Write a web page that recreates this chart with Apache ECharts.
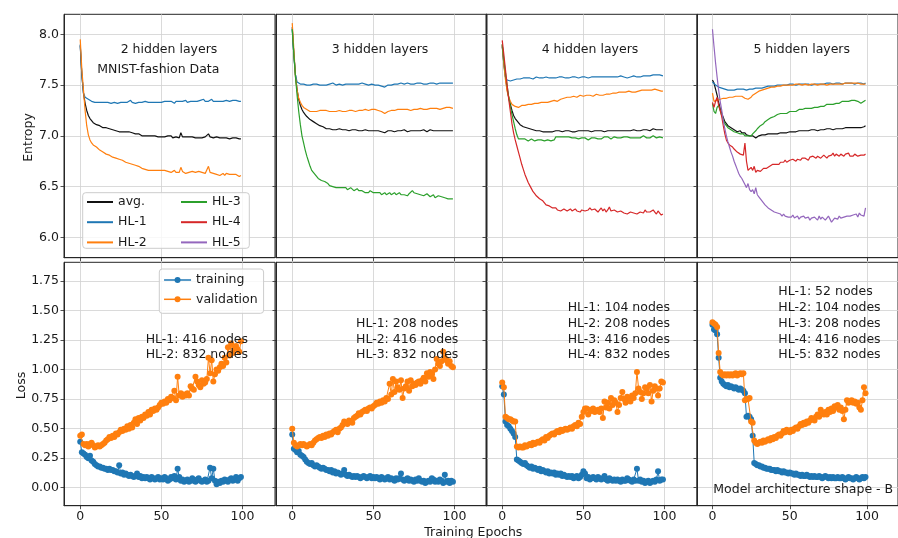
<!DOCTYPE html>
<html><head><meta charset="utf-8">
<script src="https://cdn.jsdelivr.net/npm/echarts@6/dist/echarts.min.js"></script>
<style>html,body{margin:0;padding:0;background:#fff}#c{width:898px;height:538px}</style>
</head><body><div id="c"></div><script>
// ---------- tick labels / categories ----------
const X_TICKS = [0, 50, 100];
const ENT_TICKS = [6.0, 6.5, 7.0, 7.5, 8.0];
const LOSS_TICKS = [0, 0.25, 0.5, 0.75, 1.0, 1.25, 1.5, 1.75];
const ENT_NAMES = ['avg.', 'HL-1', 'HL-2', 'HL-3', 'HL-4', 'HL-5'];
const LOSS_NAMES = ['training', 'validation'];
const PANEL_TITLES = ['2 hidden layers', '3 hidden layers', '4 hidden layers', '5 hidden layers'];
const NODE_NOTES = [
  ['HL-1: 416 nodes', 'HL-2: 832 nodes'],
  ['HL-1: 208 nodes', 'HL-2: 416 nodes', 'HL-3: 832 nodes'],
  ['HL-1: 104 nodes', 'HL-2: 208 nodes', 'HL-3: 416 nodes', 'HL-4: 832 nodes'],
  ['HL-1: 52 nodes', 'HL-2: 104 nodes', 'HL-3: 208 nodes', 'HL-4: 416 nodes', 'HL-5: 832 nodes']
];

// ---------- entropy: 2 hidden layers ----------
const h2_avg = [
7.89,7.60,7.42,7.32,7.25,7.20,7.17,7.15,7.13,7.12,
7.11,7.10,7.10,7.09,7.08,7.08,7.08,7.07,7.07,7.06,
7.06,7.05,7.05,7.05,7.04,7.04,7.04,7.04,7.04,7.03,
7.04,7.03,7.03,7.02,7.02,7.03,7.02,7.01,7.00,7.01,
7.00,7.00,7.00,7.01,7.00,6.99,7.00,7.00,6.99,7.00,
6.99,7.00,6.99,6.99,7.00,6.99,7.00,6.98,6.99,6.99,
6.99,6.98,7.03,6.99,6.99,6.99,6.98,6.99,6.98,6.99,
6.99,6.98,6.99,6.98,6.99,6.98,6.98,6.99,6.98,7.02,
6.99,6.99,6.98,6.98,6.99,6.98,6.98,6.97,6.98,6.97,
6.98,6.98,6.97,6.98,6.98,6.97,6.98,6.97,6.97,6.97];
const h2_hl1 = [
7.90,7.60,7.42,7.38,7.37,7.36,7.35,7.34,7.34,7.33,
7.32,7.33,7.34,7.33,7.32,7.33,7.34,7.33,7.33,7.32,
7.33,7.33,7.34,7.32,7.33,7.33,7.34,7.33,7.32,7.33,
7.34,7.35,7.33,7.33,7.32,7.31,7.33,7.34,7.33,7.33,
7.34,7.33,7.33,7.32,7.33,7.34,7.33,7.33,7.33,7.34,
7.33,7.33,7.34,7.35,7.34,7.33,7.34,7.33,7.32,7.34,
7.35,7.34,7.33,7.34,7.34,7.35,7.33,7.34,7.34,7.35,
7.34,7.33,7.34,7.34,7.35,7.34,7.36,7.34,7.35,7.34,
7.35,7.36,7.34,7.35,7.34,7.35,7.34,7.33,7.34,7.35,
7.35,7.34,7.34,7.35,7.35,7.34,7.35,7.35,7.34,7.34];
const h2_hl2 = [
7.95,7.65,7.45,7.25,7.10,7.01,6.96,6.93,6.91,6.90,
6.89,6.88,6.86,6.85,6.84,6.83,6.82,6.82,6.81,6.80,
6.79,6.79,6.78,6.78,6.77,6.76,6.76,6.75,6.74,6.74,
6.73,6.73,6.72,6.72,6.71,6.72,6.70,6.69,6.68,6.67,
6.67,6.67,6.66,6.67,6.66,6.67,6.66,6.66,6.66,6.65,
6.66,6.65,6.66,6.65,6.65,6.65,6.64,6.65,6.66,6.64,
6.65,6.64,6.69,6.65,6.64,6.63,6.64,6.64,6.64,6.65,
6.64,6.64,6.64,6.65,6.64,6.64,6.64,6.63,6.64,6.70,
6.64,6.63,6.63,6.62,6.62,6.63,6.61,6.62,6.63,6.61,
6.63,6.62,6.62,6.61,6.62,6.63,6.62,6.61,6.60,6.61];

// ---------- entropy: 3 hidden layers ----------
const h3_avg = [
8.07,7.80,7.60,7.45,7.36,7.30,7.26,7.23,7.21,7.19,
7.18,7.16,7.15,7.14,7.13,7.12,7.11,7.10,7.10,7.09,
7.08,7.07,7.07,7.07,7.08,7.06,7.07,7.06,7.06,7.07,
7.06,7.06,7.07,7.06,7.06,7.05,7.06,7.06,7.05,7.06,
7.06,7.05,7.06,7.05,7.05,7.06,7.05,7.05,7.06,7.05,
7.05,7.05,7.04,7.05,7.04,7.04,7.03,7.03,7.04,7.05,
7.04,7.05,7.05,7.04,7.05,7.05,7.04,7.05,7.05,7.06,
7.05,7.04,7.05,7.05,7.04,7.05,7.06,7.05,7.04,7.05,
7.05,7.06,7.05,7.04,7.05,7.06,7.05,7.05,7.04,7.05,
7.06,7.05,7.04,7.05,7.06,7.05,7.04,7.05,7.06,7.05];
const h3_hl1 = [
8.05,7.80,7.60,7.53,7.52,7.51,7.50,7.51,7.51,7.50,
7.51,7.50,7.51,7.51,7.50,7.51,7.51,7.50,7.51,7.50,
7.51,7.50,7.50,7.51,7.51,7.52,7.51,7.50,7.51,7.51,
7.50,7.50,7.51,7.51,7.50,7.51,7.52,7.51,7.51,7.51,
7.52,7.51,7.51,7.52,7.51,7.51,7.51,7.50,7.51,7.51,
7.51,7.50,7.51,7.50,7.50,7.49,7.49,7.48,7.49,7.50,
7.51,7.50,7.51,7.51,7.50,7.51,7.51,7.52,7.51,7.51,
7.51,7.52,7.51,7.51,7.52,7.51,7.51,7.52,7.51,7.52,
7.51,7.51,7.52,7.51,7.52,7.52,7.51,7.52,7.52,7.51,
7.52,7.52,7.51,7.52,7.51,7.52,7.53,7.52,7.52,7.52];
const h3_hl2 = [
8.11,7.85,7.58,7.45,7.37,7.33,7.30,7.28,7.27,7.26,
7.25,7.24,7.25,7.24,7.25,7.24,7.24,7.25,7.24,7.25,
7.24,7.25,7.25,7.24,7.23,7.24,7.25,7.24,7.25,7.25,
7.24,7.24,7.25,7.24,7.24,7.25,7.24,7.25,7.25,7.24,
7.25,7.25,7.26,7.25,7.25,7.26,7.25,7.25,7.26,7.26,
7.25,7.26,7.25,7.25,7.24,7.24,7.23,7.22,7.23,7.24,
7.25,7.25,7.24,7.25,7.25,7.26,7.25,7.26,7.25,7.26,
7.25,7.26,7.26,7.25,7.26,7.26,7.25,7.26,7.26,7.27,
7.26,7.26,7.27,7.26,7.26,7.27,7.26,7.27,7.26,7.27,
7.27,7.26,7.27,7.27,7.26,7.28,7.27,7.28,7.27,7.27];
const h3_hl3 = [
8.05,7.80,7.58,7.40,7.24,7.11,7.00,6.93,6.86,6.80,
6.75,6.70,6.66,6.64,6.62,6.60,6.58,6.57,6.56,6.55,
6.55,6.54,6.53,6.51,6.51,6.50,6.50,6.49,6.50,6.49,
6.48,6.49,6.48,6.49,6.47,6.48,6.49,6.48,6.46,6.47,
6.48,6.46,6.45,6.46,6.45,6.44,6.45,6.44,6.46,6.45,
6.44,6.45,6.44,6.43,6.44,6.42,6.43,6.44,6.42,6.43,
6.44,6.42,6.43,6.44,6.42,6.43,6.44,6.42,6.43,6.42,
6.43,6.41,6.43,6.44,6.46,6.44,6.45,6.43,6.44,6.42,
6.43,6.41,6.42,6.43,6.42,6.40,6.41,6.42,6.39,6.40,
6.41,6.42,6.40,6.41,6.39,6.40,6.38,6.39,6.38,6.38];

// ---------- entropy: 4 hidden layers ----------
const h4_avg = [
7.88,7.72,7.58,7.46,7.38,7.31,7.25,7.20,7.17,7.15,
7.13,7.11,7.10,7.09,7.08,7.08,7.07,7.07,7.06,7.06,
7.05,7.05,7.04,7.05,7.04,7.04,7.05,7.04,7.05,7.04,
7.05,7.04,7.05,7.05,7.04,7.05,7.05,7.04,7.05,7.05,
7.04,7.05,7.05,7.04,7.05,7.04,7.05,7.05,7.04,7.05,
7.05,7.05,7.04,7.05,7.05,7.04,7.04,7.05,7.04,7.05,
7.04,7.05,7.05,7.04,7.05,7.05,7.04,7.05,7.05,7.05,
7.05,7.05,7.04,7.05,7.05,7.05,7.06,7.05,7.06,7.05,
7.05,7.06,7.05,7.05,7.06,7.05,7.06,7.06,7.05,7.06,
7.06,7.05,7.06,7.07,7.06,7.06,7.05,7.06,7.07,7.06];
const h4_hl1 = [
7.90,7.70,7.58,7.55,7.54,7.54,7.54,7.55,7.55,7.56,
7.55,7.56,7.56,7.57,7.56,7.57,7.56,7.57,7.57,7.56,
7.57,7.58,7.57,7.57,7.56,7.57,7.57,7.58,7.57,7.57,
7.58,7.57,7.58,7.57,7.57,7.58,7.57,7.58,7.57,7.57,
7.58,7.57,7.57,7.58,7.57,7.58,7.58,7.57,7.58,7.58,
7.58,7.58,7.58,7.57,7.58,7.58,7.58,7.58,7.58,7.58,
7.58,7.58,7.58,7.58,7.57,7.58,7.58,7.58,7.58,7.58,
7.58,7.58,7.58,7.59,7.58,7.58,7.58,7.57,7.58,7.58,
7.58,7.59,7.58,7.58,7.59,7.58,7.59,7.59,7.58,7.59,
7.59,7.59,7.59,7.60,7.59,7.60,7.61,7.60,7.59,7.59];
const h4_hl2 = [
7.90,7.70,7.55,7.44,7.38,7.34,7.31,7.30,7.29,7.28,
7.28,7.29,7.30,7.29,7.30,7.30,7.31,7.30,7.31,7.31,
7.32,7.31,7.32,7.32,7.33,7.32,7.33,7.34,7.33,7.34,
7.34,7.34,7.35,7.35,7.34,7.35,7.36,7.36,7.37,7.38,
7.38,7.38,7.38,7.39,7.39,7.38,7.38,7.39,7.40,7.40,
7.39,7.40,7.40,7.39,7.40,7.40,7.39,7.40,7.41,7.40,
7.40,7.41,7.40,7.41,7.41,7.42,7.41,7.42,7.42,7.42,
7.42,7.42,7.43,7.42,7.43,7.43,7.43,7.43,7.44,7.43,
7.43,7.44,7.43,7.44,7.44,7.44,7.45,7.44,7.45,7.45,
7.45,7.44,7.45,7.45,7.46,7.45,7.45,7.45,7.44,7.44];
const h4_hl3 = [
7.90,7.75,7.62,7.50,7.38,7.29,7.21,7.14,7.07,7.01,
6.97,6.96,6.97,6.96,6.97,6.96,6.95,6.96,6.97,6.96,
6.95,6.96,6.96,6.95,6.96,6.96,6.95,6.96,6.96,6.96,
6.95,6.96,6.96,6.99,6.98,6.99,6.98,6.99,6.98,6.99,
6.98,6.99,6.98,6.98,6.99,6.98,6.98,6.97,6.98,6.98,
6.97,6.98,6.97,6.96,6.97,6.98,6.97,6.98,6.98,6.97,
6.96,6.97,6.98,6.99,6.98,6.99,6.98,6.97,6.98,6.99,
7.00,6.98,6.99,6.98,6.99,6.99,6.98,6.99,7.00,6.98,
6.99,6.98,6.99,6.98,6.99,6.98,6.99,7.00,6.99,6.98,
6.99,6.98,6.99,7.00,6.99,6.98,6.98,6.99,6.99,6.98];
const h4_hl4 = [
7.94,7.80,7.65,7.50,7.36,7.24,7.12,7.03,6.96,6.90,
6.84,6.78,6.72,6.67,6.62,6.58,6.54,6.51,6.48,6.45,
6.43,6.41,6.40,6.38,6.37,6.36,6.34,6.32,6.31,6.31,
6.30,6.29,6.28,6.29,6.27,6.28,6.26,6.27,6.28,6.27,
6.26,6.27,6.28,6.26,6.27,6.28,6.26,6.27,6.25,6.27,
6.28,6.26,6.25,6.27,6.29,6.27,6.26,6.28,6.27,6.25,
6.27,6.29,6.26,6.28,6.25,6.27,6.30,6.26,6.25,6.27,
6.26,6.25,6.24,6.26,6.25,6.24,6.25,6.23,6.24,6.25,
6.26,6.24,6.25,6.23,6.24,6.25,6.26,6.24,6.27,6.25,
6.24,6.25,6.26,6.27,6.25,6.23,6.26,6.24,6.22,6.23];

// ---------- entropy: 5 hidden layers ----------
const h5_avg = [
7.55,7.52,7.46,7.40,7.33,7.27,7.22,7.18,7.14,7.12,
7.10,7.09,7.08,7.07,7.06,7.05,7.04,7.04,7.05,7.03,
7.04,7.03,7.01,7.02,7.00,6.99,7.00,6.99,6.98,6.99,
7.00,7.00,7.01,7.00,7.01,7.01,7.02,7.01,7.02,7.02,
7.02,7.03,7.02,7.03,7.03,7.02,7.03,7.04,7.03,7.04,
7.04,7.03,7.04,7.05,7.04,7.04,7.05,7.04,7.05,7.05,
7.05,7.06,7.05,7.05,7.06,7.05,7.06,7.06,7.05,7.06,
7.06,7.07,7.06,7.06,7.07,7.06,7.07,7.07,7.06,7.07,
7.07,7.06,7.07,7.08,7.07,7.07,7.08,7.07,7.08,7.07,
7.08,7.07,7.08,7.09,7.08,7.07,7.08,7.08,7.09,7.10];
const h5_hl1 = [
7.53,7.52,7.50,7.49,7.48,7.47,7.47,7.46,7.46,7.45,
7.45,7.46,7.45,7.44,7.45,7.45,7.46,7.45,7.46,7.45,
7.46,7.46,7.45,7.46,7.46,7.47,7.46,7.47,7.47,7.46,
7.47,7.48,7.47,7.48,7.48,7.48,7.49,7.48,7.49,7.49,
7.49,7.49,7.50,7.49,7.50,7.50,7.50,7.51,7.50,7.51,
7.51,7.50,7.51,7.51,7.50,7.51,7.51,7.52,7.51,7.51,
7.51,7.52,7.51,7.51,7.50,7.51,7.51,7.52,7.51,7.52,
7.51,7.52,7.51,7.52,7.52,7.51,7.52,7.52,7.51,7.52,
7.52,7.51,7.52,7.52,7.51,7.52,7.52,7.53,7.52,7.52,
7.52,7.52,7.51,7.52,7.52,7.53,7.52,7.52,7.51,7.52];
const h5_hl2 = [
7.42,7.34,7.33,7.35,7.36,7.36,7.36,7.37,7.37,7.37,
7.37,7.38,7.38,7.38,7.38,7.39,7.38,7.39,7.39,7.39,
7.38,7.37,7.37,7.36,7.37,7.38,7.40,7.41,7.42,7.43,
7.44,7.44,7.45,7.45,7.46,7.46,7.47,7.47,7.48,7.47,
7.48,7.48,7.49,7.48,7.49,7.49,7.50,7.49,7.50,7.50,
7.50,7.51,7.50,7.51,7.51,7.50,7.51,7.51,7.50,7.51,
7.51,7.51,7.50,7.51,7.51,7.52,7.51,7.51,7.50,7.51,
7.51,7.52,7.51,7.51,7.50,7.51,7.51,7.52,7.51,7.51,
7.51,7.52,7.51,7.52,7.51,7.51,7.52,7.51,7.52,7.51,
7.52,7.51,7.52,7.51,7.52,7.52,7.51,7.52,7.51,7.51];
const h5_hl3 = [
7.32,7.24,7.22,7.28,7.30,7.25,7.20,7.16,7.12,7.10,
7.08,7.07,7.06,7.05,7.04,7.03,7.03,7.02,7.02,7.01,
7.02,7.00,7.01,7.00,7.01,7.00,7.02,7.03,7.05,7.07,
7.08,7.10,7.11,7.12,7.14,7.15,7.16,7.17,7.18,7.19,
7.19,7.20,7.21,7.21,7.22,7.21,7.22,7.23,7.22,7.23,
7.24,7.23,7.24,7.25,7.24,7.25,7.26,7.25,7.26,7.26,
7.27,7.26,7.27,7.28,7.27,7.28,7.28,7.29,7.28,7.29,
7.29,7.30,7.29,7.30,7.31,7.30,7.31,7.32,7.31,7.32,
7.32,7.33,7.32,7.33,7.34,7.33,7.34,7.35,7.34,7.35,
7.35,7.36,7.35,7.36,7.34,7.33,7.32,7.33,7.34,7.35];
const h5_hl4 = [
7.33,7.28,7.34,7.38,7.30,7.25,7.19,7.10,7.02,6.96,
6.93,6.91,6.90,6.89,6.87,6.86,6.84,6.83,6.82,6.81,
6.81,6.93,6.75,6.66,6.65,6.69,6.66,6.70,6.64,6.66,
6.67,6.65,6.66,6.68,6.67,6.68,6.69,6.70,6.70,6.72,
6.71,6.72,6.73,6.72,6.74,6.73,6.74,6.76,6.74,6.75,
6.76,6.75,6.77,6.76,6.75,6.77,6.78,6.76,6.78,6.77,
6.78,6.77,6.76,6.79,6.78,6.80,6.79,6.78,6.80,6.79,
6.78,6.79,6.81,6.80,6.78,6.80,6.79,6.81,6.83,6.80,
6.82,6.81,6.80,6.82,6.81,6.80,6.82,6.81,6.83,6.80,
6.81,6.80,6.82,6.81,6.80,6.79,6.81,6.80,6.81,6.82];
const h5_hl5 = [
8.05,7.88,7.72,7.58,7.45,7.34,7.25,7.15,7.07,7.00,
6.94,6.89,6.84,6.80,6.75,6.71,6.67,6.63,6.60,6.58,
6.55,6.52,6.49,6.53,6.47,6.45,6.47,6.43,6.49,6.42,
6.40,6.38,6.37,6.34,6.32,6.31,6.29,6.28,6.27,6.26,
6.25,6.26,6.24,6.25,6.23,6.21,6.23,6.21,6.22,6.20,
6.21,6.20,6.22,6.19,6.20,6.21,6.18,6.20,6.19,6.21,
6.19,6.18,6.20,6.17,6.19,6.18,6.20,6.19,6.17,6.21,
6.18,6.20,6.19,6.17,6.18,6.21,6.18,6.15,6.17,6.19,
6.20,6.18,6.21,6.19,6.18,6.20,6.19,6.21,6.20,6.21,
6.20,6.22,6.21,6.23,6.20,6.24,6.22,6.23,6.21,6.29];

// ---------- loss ----------
const l2_train = [
0.39,0.30,0.29,0.28,0.26,0.25,0.27,0.23,0.22,0.20,
0.19,0.18,0.18,0.17,0.17,0.16,0.16,0.15,0.16,0.15,
0.15,0.14,0.14,0.13,0.19,0.12,0.13,0.11,0.12,0.11,
0.10,0.11,0.10,0.09,0.10,0.12,0.09,0.10,0.08,0.09,
0.08,0.09,0.08,0.07,0.09,0.08,0.07,0.08,0.09,0.07,
0.08,0.07,0.09,0.08,0.06,0.07,0.09,0.08,0.10,0.07,
0.16,0.09,0.06,0.07,0.05,0.06,0.07,0.05,0.06,0.08,
0.06,0.05,0.07,0.08,0.06,0.05,0.06,0.07,0.05,0.06,
0.17,0.08,0.16,0.06,0.03,0.05,0.04,0.06,0.05,0.07,
0.06,0.05,0.07,0.08,0.06,0.07,0.09,0.06,0.08,0.09];
const l2_val = [
0.44,0.45,0.37,0.36,0.37,0.35,0.37,0.38,0.36,0.34,
0.35,0.36,0.35,0.36,0.37,0.38,0.40,0.41,0.43,0.42,
0.44,0.43,0.46,0.45,0.47,0.49,0.48,0.50,0.49,0.52,
0.50,0.53,0.51,0.55,0.58,0.54,0.59,0.57,0.60,0.59,
0.62,0.61,0.64,0.62,0.66,0.65,0.67,0.66,0.68,0.70,
0.72,0.71,0.73,0.72,0.75,0.74,0.77,0.76,0.82,0.74,
0.94,0.78,0.80,0.77,0.79,0.78,0.80,0.78,0.86,0.84,
0.83,0.94,0.90,0.87,0.85,0.91,0.88,0.89,0.92,1.10,
0.97,1.08,0.90,0.96,1.00,0.99,1.02,1.05,1.03,1.10,
1.06,1.19,1.12,1.22,1.14,1.18,1.20,1.17,1.15,1.24];
const l3_train = [
0.45,0.33,0.32,0.30,0.31,0.28,0.27,0.26,0.24,0.22,
0.21,0.20,0.21,0.19,0.18,0.19,0.18,0.17,0.16,0.17,
0.16,0.15,0.15,0.14,0.15,0.13,0.14,0.12,0.13,0.12,
0.11,0.12,0.15,0.11,0.10,0.11,0.10,0.09,0.10,0.09,
0.10,0.09,0.08,0.09,0.10,0.09,0.08,0.09,0.10,0.08,
0.09,0.08,0.09,0.08,0.07,0.09,0.08,0.07,0.08,0.09,
0.07,0.08,0.07,0.06,0.08,0.07,0.08,0.12,0.07,0.06,
0.07,0.08,0.06,0.07,0.06,0.05,0.07,0.06,0.08,0.06,
0.05,0.06,0.04,0.05,0.06,0.05,0.08,0.07,0.05,0.06,
0.05,0.07,0.06,0.04,0.11,0.05,0.06,0.04,0.06,0.05];
const l3_val = [
0.50,0.38,0.36,0.35,0.36,0.37,0.36,0.37,0.36,0.35,
0.36,0.37,0.36,0.38,0.40,0.41,0.42,0.43,0.42,0.44,
0.43,0.45,0.44,0.46,0.45,0.47,0.48,0.49,0.47,0.50,
0.51,0.53,0.56,0.55,0.54,0.57,0.56,0.55,0.59,0.60,
0.61,0.63,0.62,0.64,0.65,0.66,0.65,0.67,0.68,0.67,
0.69,0.70,0.72,0.71,0.73,0.72,0.74,0.73,0.76,0.75,
0.88,0.79,0.92,0.81,0.90,0.85,0.83,0.91,0.76,0.84,
0.86,0.90,0.82,0.91,0.86,0.88,0.87,0.89,0.90,0.88,
0.91,0.93,0.90,0.97,0.94,0.98,0.96,0.92,1.00,1.09,
1.05,1.03,1.07,1.15,1.10,1.08,1.05,1.07,1.03,1.02];
const l4_train = [
0.86,0.79,0.56,0.53,0.52,0.50,0.48,0.46,0.43,0.24,
0.23,0.22,0.21,0.20,0.21,0.19,0.18,0.17,0.18,0.16,
0.17,0.16,0.15,0.16,0.14,0.15,0.14,0.13,0.14,0.12,
0.13,0.12,0.13,0.11,0.12,0.11,0.12,0.10,0.11,0.10,
0.09,0.10,0.09,0.10,0.08,0.09,0.10,0.08,0.09,0.11,
0.14,0.12,0.08,0.09,0.07,0.08,0.09,0.08,0.07,0.09,
0.08,0.07,0.08,0.10,0.07,0.06,0.08,0.07,0.06,0.07,
0.06,0.07,0.06,0.05,0.07,0.06,0.06,0.08,0.07,0.06,
0.05,0.07,0.06,0.16,0.06,0.07,0.05,0.06,0.04,0.05,
0.06,0.04,0.05,0.06,0.05,0.07,0.14,0.06,0.07,0.07];
const l4_val = [
0.89,0.85,0.60,0.59,0.58,0.58,0.57,0.56,0.56,0.35,
0.34,0.35,0.34,0.34,0.36,0.35,0.36,0.37,0.36,0.38,
0.37,0.38,0.39,0.38,0.40,0.41,0.40,0.43,0.42,0.44,
0.45,0.46,0.45,0.47,0.48,0.47,0.49,0.48,0.49,0.50,
0.49,0.50,0.51,0.50,0.52,0.53,0.52,0.55,0.54,0.60,
0.64,0.67,0.67,0.62,0.66,0.65,0.67,0.64,0.65,0.66,
0.64,0.67,0.59,0.73,0.68,0.72,0.67,0.76,0.70,0.74,
0.72,0.64,0.70,0.76,0.81,0.75,0.72,0.77,0.74,0.73,
0.78,0.76,0.80,0.98,0.84,0.81,0.75,0.80,0.85,0.84,
0.80,0.87,0.73,0.82,0.86,0.84,0.78,0.84,0.90,0.89];
const l5_train = [
1.38,1.34,1.33,1.30,1.10,0.93,0.90,0.88,0.87,0.86,
0.87,0.85,0.86,0.85,0.84,0.85,0.84,0.83,0.84,0.83,
0.82,0.80,0.60,0.61,0.60,0.58,0.44,0.21,0.20,0.19,
0.19,0.18,0.18,0.17,0.17,0.16,0.16,0.16,0.15,0.15,
0.15,0.14,0.15,0.14,0.14,0.13,0.14,0.13,0.13,0.12,
0.13,0.12,0.12,0.11,0.12,0.11,0.11,0.10,0.11,0.10,
0.10,0.11,0.10,0.09,0.10,0.09,0.10,0.09,0.09,0.10,
0.09,0.08,0.09,0.10,0.09,0.08,0.09,0.08,0.09,0.08,
0.08,0.09,0.08,0.08,0.09,0.08,0.07,0.08,0.09,0.08,
0.08,0.07,0.08,0.09,0.08,0.07,0.08,0.09,0.08,0.09];
const l5_val = [
1.40,1.39,1.38,1.36,1.14,0.98,0.96,0.95,0.96,0.95,
0.96,0.95,0.96,0.95,0.96,0.97,0.95,0.96,0.97,0.96,
0.97,0.74,0.75,0.75,0.76,0.56,0.55,0.40,0.38,0.37,
0.38,0.39,0.38,0.40,0.39,0.40,0.41,0.40,0.42,0.41,
0.43,0.42,0.44,0.45,0.44,0.46,0.48,0.47,0.49,0.48,
0.47,0.49,0.48,0.50,0.51,0.50,0.52,0.54,0.53,0.55,
0.54,0.56,0.55,0.57,0.59,0.58,0.57,0.60,0.62,0.60,
0.66,0.63,0.62,0.64,0.62,0.66,0.64,0.67,0.65,0.69,
0.68,0.70,0.66,0.68,0.65,0.58,0.66,0.74,0.72,0.73,
0.74,0.72,0.73,0.71,0.72,0.68,0.66,0.74,0.85,0.80];

const ENTROPY = [
  [h2_avg, h2_hl1, h2_hl2],
  [h3_avg, h3_hl1, h3_hl2, h3_hl3],
  [h4_avg, h4_hl1, h4_hl2, h4_hl3, h4_hl4],
  [h5_avg, h5_hl1, h5_hl2, h5_hl3, h5_hl4, h5_hl5]
];
const LOSS = [[l2_train, l2_val], [l3_train, l3_val], [l4_train, l4_val], [l5_train, l5_val]];

// ---------- styling / layout ----------
const ENT_COLORS = ['#111111', '#1f77b4', '#ff7f0e', '#2ca02c', '#d62728', '#9467bd'];
const LOSS_COLORS = ['#1f77b4', '#ff7f0e'];
const FONT = '"DejaVu Sans", sans-serif';
const TXT = '#1a1a1a';
const FS = 12.5;
const LEFTS = [64, 276, 486, 697], W = 211;
const TOPS = [14.3, 262.3], H = 243.4;

const grids = [], xAxes = [], yAxes = [], series = [];
for (let r = 0; r < 2; r++) {
  for (let c = 0; c < 4; c++) {
    const idx = r * 4 + c;
    grids.push({left: LEFTS[c], top: TOPS[r], width: W, height: H, show: true,
      borderColor: '#262626', borderWidth: 1, backgroundColor: 'transparent'});
    xAxes.push({type: 'value', gridIndex: idx, min: -10, max: 120,
      axisLine: {show: true, onZero: false, lineStyle: {color: '#262626', width: 1}},
      axisTick: {show: true, customValues: X_TICKS, length: 3.5, lineStyle: {color: '#262626', width: 0.8}},
      axisLabel: {show: r === 1, customValues: X_TICKS, margin: 5, color: TXT, fontSize: FS, fontFamily: FONT},
      splitLine: {show: true, lineStyle: {color: '#d0d0d0', width: 0.8}}});
    const ticks = r === 0 ? ENT_TICKS : LOSS_TICKS;
    yAxes.push({type: 'value', gridIndex: idx,
      min: r === 0 ? 5.8 : -0.152, max: r === 0 ? 8.197 : 1.908,
      axisLine: {show: true, onZero: false, lineStyle: {color: '#262626', width: 1}},
      axisTick: {show: true, customValues: ticks, length: 3.5, lineStyle: {color: '#262626', width: 0.8}},
      axisLabel: {show: c === 0, customValues: ticks, margin: 5, color: TXT, fontSize: FS, fontFamily: FONT,
        formatter: v => r === 0 ? v.toFixed(1) : v.toFixed(2)},
      splitLine: {show: true, lineStyle: {color: '#d0d0d0', width: 0.8}}});
  }
}
ENTROPY.forEach((panel, c) => {
  panel.forEach((arr, k) => {
    series.push({type: 'line', name: ENT_NAMES[k], xAxisIndex: c, yAxisIndex: c,
      data: arr.map((v, i) => [i, v]), symbol: 'none', silent: true,
      lineStyle: {color: ENT_COLORS[k], width: 1.2}, itemStyle: {color: ENT_COLORS[k]}, z: 2 + k * 0.01});
  });
});
LOSS.forEach((panel, c) => {
  panel.forEach((arr, k) => {
    series.push({type: 'line', name: LOSS_NAMES[k], xAxisIndex: 4 + c, yAxisIndex: 4 + c,
      data: arr.map((v, i) => [i, v]), symbol: 'circle', symbolSize: 6, showSymbol: true, silent: true,
      lineStyle: {color: LOSS_COLORS[k], width: 1}, itemStyle: {color: LOSS_COLORS[k]}, z: 2 + k * 0.01});
  });
});

const txtStyle = (extra) => Object.assign({font: FS + 'px ' + FONT, fill: TXT}, extra);
const graphics = [];
// entropy legend box
graphics.push({type: 'rect', z: 3, shape: {x: 82.7, y: 192.7, width: 166.6, height: 55.6, r: 3},
  style: {fill: 'rgba(255,255,255,0.8)', stroke: '#cccccc', lineWidth: 1}});
// panel titles
const titleCx = [169, 380, 590, 801.7];
PANEL_TITLES.forEach((t, c) => graphics.push({type: 'text', z: 5, x: titleCx[c], y: 50,
  style: txtStyle({text: t, align: 'center', verticalAlign: 'middle', textAlign: 'center', textVerticalAlign: 'middle'})}));
graphics.push({type: 'text', z: 5, x: 97.3, y: 70,
  style: txtStyle({text: 'MNIST-fashion Data', align: 'left', verticalAlign: 'middle', textAlign: 'left', textVerticalAlign: 'middle'})});
// node notes
const noteX = [145.7, 356, 567.7, 778.3];
const LH = 15.75;
NODE_NOTES.forEach((lines, c) => {
  const n = lines.length;
  lines.forEach((t, j) => graphics.push({type: 'text', z: 5, x: noteX[c], y: 355 - (n - 1 - j) * LH,
    style: txtStyle({text: t, align: 'left', verticalAlign: 'middle', textAlign: 'left', textVerticalAlign: 'middle'})}));
});
graphics.push({type: 'text', z: 5, x: 713.3, y: 490,
  style: txtStyle({text: 'Model architecture shape - B', align: 'left', verticalAlign: 'middle', textAlign: 'left', textVerticalAlign: 'middle'})});
// axis titles
graphics.push({type: 'text', z: 5, x: 473.3, y: 532.3,
  style: txtStyle({text: 'Training Epochs', align: 'center', verticalAlign: 'middle', textAlign: 'center', textVerticalAlign: 'middle'})});
graphics.push({type: 'text', z: 5, x: 29, y: 137.5, rotation: Math.PI / 2,
  style: txtStyle({text: 'Entropy', align: 'center', verticalAlign: 'middle', textAlign: 'center', textVerticalAlign: 'middle'})});
graphics.push({type: 'text', z: 5, x: 21.3, y: 385.5, rotation: Math.PI / 2,
  style: txtStyle({text: 'Loss', align: 'center', verticalAlign: 'middle', textAlign: 'center', textVerticalAlign: 'middle'})});

const legText = {fontSize: FS, fontFamily: FONT, color: TXT, lineHeight: 15};
const option = {
  animation: false,
  backgroundColor: '#ffffff',
  grid: grids, xAxis: xAxes, yAxis: yAxes, series: series,
  legend: [
    {data: ENT_NAMES.slice(0, 3), orient: 'vertical', left: 87, top: 194.5, padding: 0,
      icon: 'rect', itemWidth: 26, itemHeight: 2, itemGap: 5.2, itemTextGap: 7,
      textStyle: legText, selectedMode: false, z: 6},
    {data: ENT_NAMES.slice(3, 6), orient: 'vertical', left: 181, top: 194.5, padding: 0,
      icon: 'rect', itemWidth: 26, itemHeight: 2, itemGap: 5.2, itemTextGap: 7,
      textStyle: legText, selectedMode: false, z: 6},
    {data: LOSS_NAMES, orient: 'vertical', left: 159.3, top: 269, padding: [3.5, 6, 6.5, 4],
      backgroundColor: 'rgba(255,255,255,0.8)', borderColor: '#cccccc', borderWidth: 1, borderRadius: 3,
      itemWidth: 27, itemHeight: 7.5, itemGap: 4.3, itemTextGap: 10, lineStyle: {width: 1.5},
      textStyle: legText, selectedMode: false, z: 6}
  ],
  graphic: {elements: graphics}
};
const chart = echarts.init(document.getElementById('c'), null, {renderer: 'canvas'});
chart.setOption(option);
</script></body></html>
